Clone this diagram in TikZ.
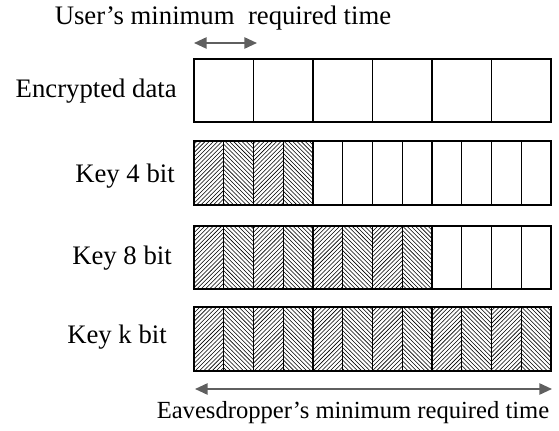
\documentclass[tikz,border=0pt]{standalone}
\usepackage{fontspec}
\setmainfont{Liberation Serif}
\usetikzlibrary{arrows.meta,patterns,positioning}
\definecolor{arrc}{RGB}{95,95,95}

\tikzset{
  cell/.style={draw=black,line width=0.9pt},
  hne/.style={cell,pattern=north east lines},
  hnw/.style={cell,pattern=north west lines},
  lbl/.style={anchor=east,inner sep=0pt},
  span/.style={<->,draw=arrc,line width=1.3pt}
}

\begin{document}
\begin{tikzpicture}[x=0.025cm,y=-0.025cm,font=\fontsize{19}{22}\selectfont,>={Triangle[length=9pt,width=8pt]}]
  \useasboundingbox (0,0) rectangle (559,431);
  \def\xo{194}
  \def\cw{29.75}
  % encrypted data: six plain blocks
  \foreach \i in {0,...,5}
    \draw[cell] ({\xo+2*\cw*\i},59) rectangle ++({2*\cw},63);
  \node[lbl] (enc) at (177,91) {Encrypted data};
  % key 4 bit: 4 hatched, 8 free
  \foreach \i in {0,...,11}{
    \pgfmathsetmacro\hs{\i<4 ? (mod(\i,2)==0 ? "hne" : "hnw") : "cell"}
    \draw[\hs] ({\xo+\cw*\i},141) rectangle ++(\cw,64);
  }
  \node[lbl] (k4) at (175,176) {Key 4 bit};
  % key 8 bit: 8 hatched, 4 free
  \foreach \i in {0,...,11}{
    \pgfmathsetmacro\hs{\i<8 ? (mod(\i,2)==0 ? "hne" : "hnw") : "cell"}
    \draw[\hs] ({\xo+\cw*\i},226) rectangle ++(\cw,63);
  }
  \node[lbl] (k8) at (172,258) {Key 8 bit};
  % key k bit: all hatched
  \foreach \i in {0,...,11}{
    \pgfmathsetmacro\hs{mod(\i,2)==0 ? "hne" : "hnw"}
    \draw[\hs] ({\xo+\cw*\i},307) rectangle ++(\cw,64);
  }
  \node[lbl] (kk) at (167,337) {Key k bit};
  % time spans
  \coordinate (ua) at (194,43);
  \coordinate (ub) at (257,43);
  \draw[span] (ua) -- (ub);
  \node[inner sep=0pt] (user) at (223,18) {User’s minimum\ \ required time};
  \coordinate (ea) at (195,389);
  \coordinate (eb) at (552,389);
  \draw[span] (ea) -- (eb);
  \node[inner sep=0pt,font=\fontsize{17.5}{21}\selectfont] (eve) at (353,413) {Eavesdropper’s minimum\ required time};
\end{tikzpicture}
\end{document}
